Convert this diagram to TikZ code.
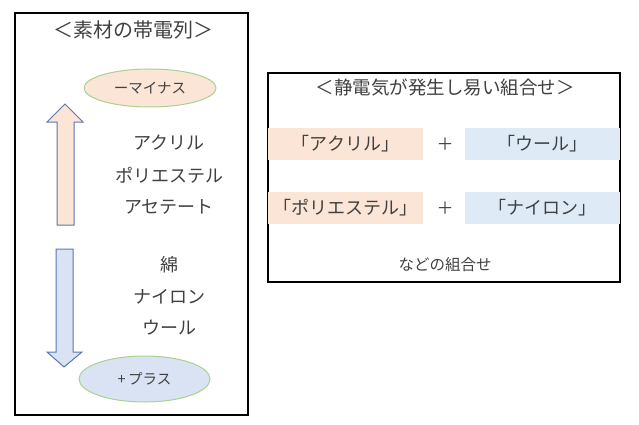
\documentclass[tikz,border=0pt]{standalone}
\usepackage{fontspec}
\setmainfont{Noto Sans CJK JP}
\usetikzlibrary{shapes.geometric}
\definecolor{txt}{HTML}{404040}
\definecolor{peach}{HTML}{FBE5D6}
\definecolor{lblue}{HTML}{DAE3F3}
\definecolor{rblue}{HTML}{DEEBF7}
\definecolor{egreen}{HTML}{A9D18E}
\definecolor{aedge}{HTML}{5B77AE}
\tikzset{
  frame/.style={draw=black, line width=2pt},
  oval/.style={ellipse, draw=egreen, line width=1pt, inner sep=0pt, font=\fontsize{14.5}{16}\selectfont},
  bigarrow/.style={draw=aedge, line width=1pt, line join=miter},
  lst/.style={font=\fontsize{18}{20}\selectfont},
  ttl/.style={font=\fontsize{20}{22}\selectfont},
  rttl/.style={font=\fontsize{18.5}{20}\selectfont},
  cell/.style={minimum width=155pt, minimum height=32pt, inner sep=0pt, font=\fontsize{18}{20}\selectfont},
  plus/.style={font=\fontsize{17}{18}\selectfont},
}
\begin{document}
\begin{tikzpicture}[x=1pt,y=-1pt, every node/.style={text=txt, inner sep=0pt}]
\useasboundingbox (0,0) rectangle (639,425);
% left panel
\draw[frame] (15,13) rectangle (248,415);
\node[ttl] (lt) at (133,30) {＜素材の帯電列＞};
\node[oval, fill=peach, minimum width=132pt, minimum height=38pt] (minus) at (150,88) {ーマイナス};
\node[oval, fill=lblue, minimum width=131pt, minimum height=46pt] (plusov) at (144.5,379) {+\,プラス};
\draw[bigarrow, fill=peach] (65,104) -- (83,122) -- (74,122) -- (74,225) -- (57,225) -- (57,122) -- (47,122) -- cycle;
\draw[bigarrow, fill=lblue] (56,249) -- (73,249) -- (73,352) -- (82,352) -- (64,367) -- (47,352) -- (56,352) -- cycle;
\node[lst] (a1) at (169,143) {アクリル};
\node[lst] (a2) at (169,175) {ポリエステル};
\node[lst] (a3) at (169,207) {アセテート};
\node[lst] (b1) at (169,265) {綿};
\node[lst] (b2) at (169,297) {ナイロン};
\node[lst] (b3) at (169,328) {ウール};
% right panel
\draw[frame] (268,73) rectangle (620,282);
\node[rttl] (rt) at (445,87) {＜静電気が発生し易い組合せ＞};
\node[cell, fill=peach] (r1a) at (345.5,144) {「アクリル」};
\node[cell, fill=rblue] (r1b) at (542,144) {「ウール」};
\node[plus] (p1) at (445,144) {＋};
\node[cell, fill=peach] (r2a) at (345.5,208) {「ポリエステル」};
\node[cell, fill=rblue] (r2b) at (542,208) {「ナイロン」};
\node[plus] (p2) at (445,208) {＋};
\node[font=\fontsize{15.5}{17}\selectfont] (nd) at (445,265) {などの組合せ};
\end{tikzpicture}
\end{document}
